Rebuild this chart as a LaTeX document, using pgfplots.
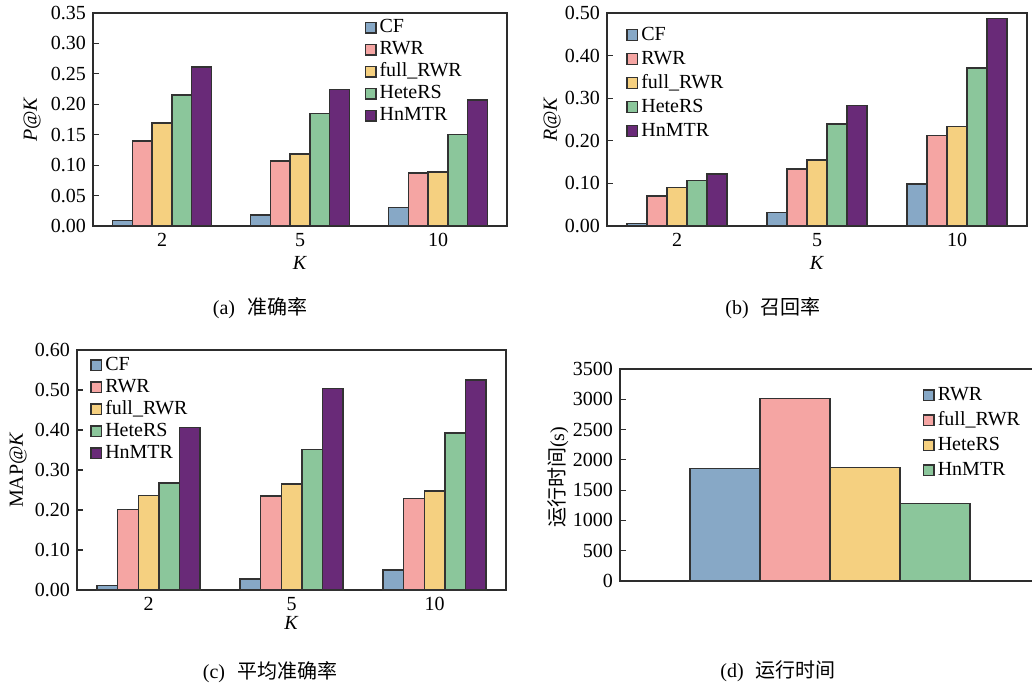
\documentclass[border=0pt]{standalone}
\usepackage{pgfplots}
\pgfplotsset{compat=1.18}
\usepackage{fontspec}
\setmainfont{Liberation Serif}
\newfontfamily\cjk{Noto Sans CJK SC}
\definecolor{cA}{RGB}{135,168,198}
\definecolor{cB}{RGB}{245,165,163}
\definecolor{cC}{RGB}{245,208,128}
\definecolor{cD}{RGB}{139,198,155}
\definecolor{cE}{RGB}{105,42,120}
\definecolor{axc}{RGB}{45,45,45}
\definecolor{barc}{RGB}{50,50,50}
\pgfplotsset{
  mybase/.style={
    scale only axis,
    ybar=0pt,
    ymin=0,
    axis line style={draw=axc, line width=0.7pt},
    ytick pos=left,
    tick align=inside,
    major tick length=3pt,
    every tick/.style={draw=axc, line width=0.6pt},
    xtick style={draw=none},
    /pgf/number format/assume math mode=true,
    font=\fontsize{10}{12}\selectfont,
    ticklabel style={font=\fontsize{10}{12}\selectfont},
    label style={font=\fontsize{10}{12}\selectfont},
    legend style={draw=none, fill=none, anchor=north west, inner sep=0pt,
      font=\fontsize{10}{12}\selectfont,
      nodes={text height=7pt, text depth=2pt, inner ysep=0pt, inner xsep=1.5pt}},
    legend cell align=left,
    legend image code/.code={\draw[##1, line width=0.7pt, /pgf/bar shift=0pt] (0pt,-2.6pt) rectangle (5.3pt,2.7pt);},
  },
  mygrp/.style={
    mybase,
    xmin=-0.5, xmax=2.5,
    xtick={0,1,2}, xticklabels={2,5,10},
    xlabel={\textit{K}},
    yticklabel style={/pgf/number format/.cd, fixed, fixed zerofill, precision=2},
  },
}
\pgfplotstableread{
x  CF     RWR    full   HeteRS HnMTR
0  0.009  0.140  0.169  0.215  0.261
1  0.018  0.107  0.118  0.185  0.224
2  0.030  0.087  0.089  0.150  0.207
}\tabP
\pgfplotstableread{
x  CF     RWR    full   HeteRS HnMTR
0  0.006  0.070  0.091  0.107  0.122
1  0.032  0.134  0.155  0.239  0.283
2  0.099  0.212  0.234  0.371  0.487
}\tabR
\pgfplotstableread{
x  CF     RWR    full   HeteRS HnMTR
0  0.012  0.202  0.236  0.268  0.406
1  0.028  0.235  0.265  0.351  0.504
2  0.050  0.229  0.248  0.393  0.525
}\tabM
\begin{document}
\begin{tikzpicture}[x=1pt,y=1pt]
\path[use as bounding box] (0pt,0pt) rectangle (516pt,343pt);
% (a)
\begin{axis}[mygrp, at={(46.5pt,230pt)}, anchor=south west,
  width=207pt, height=106.5pt, bar width=9.9pt,
  ymax=0.35, ytick={0,0.05,...,0.351},
  ylabel={\textit{P}@\textit{K}},
  ylabel style={at={(axis description cs:-0.147,0.5)}, anchor=center, rotate=0},
  xlabel style={at={(axis description cs:0.5,-0.174)}, anchor=center},
  legend style={at={(0.655,0.975)}, row sep=2pt}]
\addplot[fill=cA, draw=barc, line width=0.7pt] table[x=x,y=CF]{\tabP};
\addplot[fill=cB, draw=barc, line width=0.7pt] table[x=x,y=RWR]{\tabP};
\addplot[fill=cC, draw=barc, line width=0.7pt] table[x=x,y=full]{\tabP};
\addplot[fill=cD, draw=barc, line width=0.7pt] table[x=x,y=HeteRS]{\tabP};
\addplot[fill=cE, draw=barc, line width=0.7pt] table[x=x,y=HnMTR]{\tabP};
\legend{CF,RWR,full\_RWR,HeteRS,HnMTR}
\end{axis}
% (b)
\begin{axis}[mygrp, at={(303.5pt,230pt)}, anchor=south west,
  width=210pt, height=106.5pt, bar width=10pt,
  ymax=0.5, ytick={0,0.1,...,0.51},
  ylabel={\textit{R}@\textit{K}},
  ylabel style={at={(axis description cs:-0.131,0.5)}, anchor=center},
  xlabel style={at={(axis description cs:0.5,-0.174)}, anchor=center},
  legend style={at={(0.045,0.94)}, row sep=3pt}]
\addplot[fill=cA, draw=barc, line width=0.7pt] table[x=x,y=CF]{\tabR};
\addplot[fill=cB, draw=barc, line width=0.7pt] table[x=x,y=RWR]{\tabR};
\addplot[fill=cC, draw=barc, line width=0.7pt] table[x=x,y=full]{\tabR};
\addplot[fill=cD, draw=barc, line width=0.7pt] table[x=x,y=HeteRS]{\tabR};
\addplot[fill=cE, draw=barc, line width=0.7pt] table[x=x,y=HnMTR]{\tabR};
\legend{CF,RWR,full\_RWR,HeteRS,HnMTR}
\end{axis}
% (c)
\begin{axis}[mygrp, at={(38.5pt,48pt)}, anchor=south west,
  width=214.5pt, height=120pt, bar width=10.3pt,
  ymax=0.6, ytick={0,0.1,...,0.61},
  ylabel={MAP@\textit{K}},
  ylabel style={at={(axis description cs:-0.1375,0.5)}, anchor=center},
  xlabel style={at={(axis description cs:0.5,-0.1375)}, anchor=center},
  legend style={at={(0.03,0.975)}, row sep=2pt}]
\addplot[fill=cA, draw=barc, line width=0.7pt] table[x=x,y=CF]{\tabM};
\addplot[fill=cB, draw=barc, line width=0.7pt] table[x=x,y=RWR]{\tabM};
\addplot[fill=cC, draw=barc, line width=0.7pt] table[x=x,y=full]{\tabM};
\addplot[fill=cD, draw=barc, line width=0.7pt] table[x=x,y=HeteRS]{\tabM};
\addplot[fill=cE, draw=barc, line width=0.7pt] table[x=x,y=HnMTR]{\tabM};
\legend{CF,RWR,full\_RWR,HeteRS,HnMTR}
\end{axis}
% (d)
\begin{axis}[mybase, at={(310pt,52.5pt)}, anchor=south west,
  width=210pt, height=106pt, bar width=35pt,
  xmin=0, xmax=6, xtick=\empty,
  ymax=3500, ytick={0,500,...,3500},
  yticklabel style={/pgf/number format/.cd, 1000 sep={}},
  ylabel={{\cjk 运行时间}(s)},
  ylabel style={at={(axis description cs:-0.148,0.49)}, anchor=center},
  legend style={at={(0.72,0.92)}, row sep=3.5pt}]
\addplot[fill=cA, draw=barc, line width=0.7pt] coordinates {(3,1860)};
\addplot[fill=cB, draw=barc, line width=0.7pt] coordinates {(3,3016)};
\addplot[fill=cC, draw=barc, line width=0.7pt] coordinates {(3,1871)};
\addplot[fill=cD, draw=barc, line width=0.7pt] coordinates {(3,1282)};
\legend{RWR,full\_RWR,HeteRS,HnMTR}
\end{axis}
\node[font=\fontsize{10}{12}\selectfont] at (130pt,189pt) {(a)\hspace{6pt}{\cjk 准确率}};
\node[font=\fontsize{10}{12}\selectfont] at (386.5pt,189pt) {(b)\hspace{6pt}{\cjk 召回率}};
\node[font=\fontsize{10}{12}\selectfont] at (135pt,7pt) {(c)\hspace{6pt}{\cjk 平均准确率}};
\node[font=\fontsize{10}{12}\selectfont] at (389pt,7.5pt) {(d)\hspace{6pt}{\cjk 运行时间}};
\end{tikzpicture}
\end{document}
